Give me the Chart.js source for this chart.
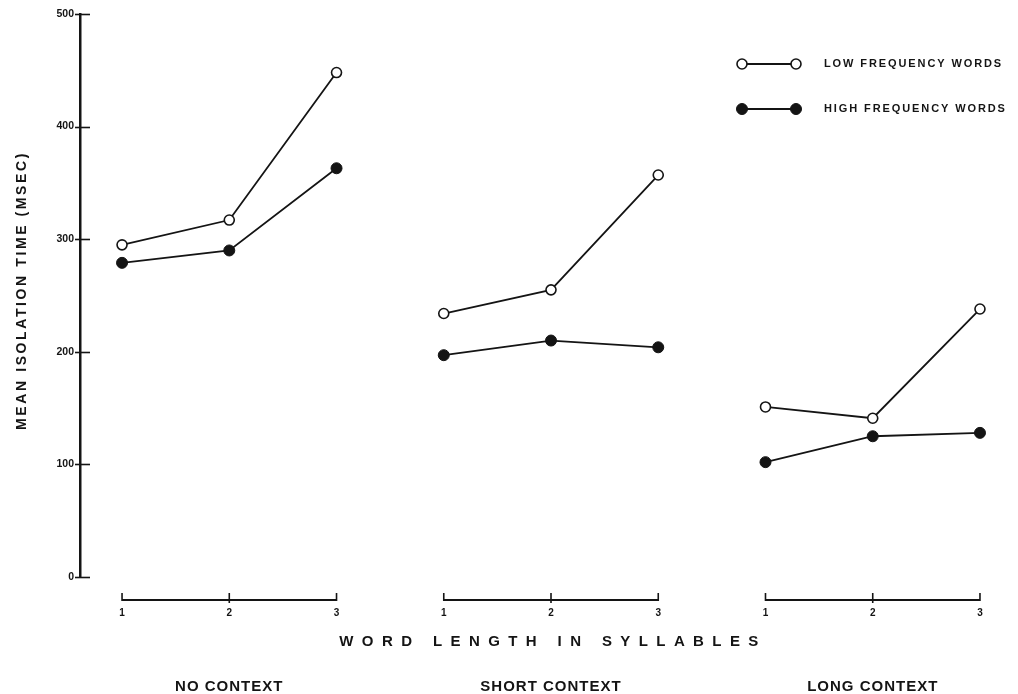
<!DOCTYPE html>
<html>
<head>
<meta charset="utf-8">
<script src="https://cdn.jsdelivr.net/npm/chart.js@4.4.1/dist/chart.umd.min.js"></script>
<style>
  html, body { margin: 0; padding: 0; background: #fff; }
  #wrap { width: 1018px; height: 694px; }
  canvas { display: block; }
</style>
</head>
<body>
<div id="wrap"><canvas id="chart" width="1018" height="694"></canvas></div>
<script>
// Word length (syllables) repeated for each context condition
const syllables = ['1', '2', '3'];
const contexts = ['NO CONTEXT', 'SHORT CONTEXT', 'LONG CONTEXT'];

// Mean isolation time (msec), 3 word lengths x 3 contexts
const lowFrequency  = [295, 317, 448, 234, 255, 357, 151, 141, 238];
const highFrequency = [279, 290, 363, 197, 210, 204, 102, 125, 128];

const yTickValues = [0, 100, 200, 300, 400, 500];
const seriesNames = ['LOW FREQUENCY WORDS', 'HIGH FREQUENCY WORDS'];
const xTitle = 'WORD LENGTH IN SYLLABLES';
const yTitle = 'MEAN ISOLATION TIME (MSEC)';

const INK = '#141414';
const FONT = '"Liberation Sans", Arial, Helvetica, sans-serif';

// Each point sits at its position index; lines break between context groups.
const toPoints = vals => vals.map((v, i) => ({ x: i, y: v }));
const breakBetweenGroups = ctx => (ctx.p0DataIndex % syllables.length === syllables.length - 1 ? 'rgba(0,0,0,0)' : INK);

const datasets = [
  {
    label: seriesNames[0],
    data: toPoints(lowFrequency),
    borderColor: INK,
    borderWidth: 1.8,
    pointRadius: 5,
    pointBackgroundColor: '#fff',
    pointBorderColor: INK,
    pointBorderWidth: 1.6,
    segment: { borderColor: breakBetweenGroups }
  },
  {
    label: seriesNames[1],
    data: toPoints(highFrequency),
    borderColor: INK,
    borderWidth: 1.8,
    pointRadius: 5.5,
    pointBackgroundColor: INK,
    pointBorderColor: INK,
    pointBorderWidth: 1,
    segment: { borderColor: breakBetweenGroups }
  }
];

// Draws the split x axis, y tick marks, axis captions and the key.
const paperAxes = {
  id: 'paperAxes',
  afterDraw(chart) {
    const { ctx, scales: { x, y }, chartArea } = chart;
    ctx.save();
    ctx.strokeStyle = INK;
    ctx.fillStyle = INK;

    // y tick marks crossing the axis
    ctx.lineWidth = 1.6;
    yTickValues.forEach(v => {
      const py = Math.round(y.getPixelForValue(v)) + 0.5;
      ctx.beginPath();
      ctx.moveTo(chartArea.left - 5, py);
      ctx.lineTo(chartArea.left + 10, py);
      ctx.stroke();
    });

    // y axis caption, spaced out and rotated
    ctx.save();
    ctx.translate(22, (chartArea.top + chartArea.bottom) / 2 - 5);
    ctx.rotate(-Math.PI / 2);
    ctx.font = 'bold 14px ' + FONT;
    ctx.letterSpacing = '2.6px';
    ctx.textAlign = 'center';
    ctx.textBaseline = 'middle';
    ctx.fillText(yTitle, 0, 0);
    ctx.restore();

    // one short axis per context group
    const axisY = chartArea.bottom + 23;
    contexts.forEach((name, g) => {
      const x0 = x.getPixelForValue(g * 3);
      const x2 = x.getPixelForValue(g * 3 + 2);
      ctx.lineWidth = 2;
      ctx.beginPath();
      ctx.moveTo(x0, axisY);
      ctx.lineTo(x2, axisY);
      ctx.stroke();
      ctx.lineWidth = 1.6;
      for (let k = 0; k < 3; k++) {
        const px = x.getPixelForValue(g * 3 + k);
        ctx.beginPath();
        ctx.moveTo(px, axisY - 7);
        ctx.lineTo(px, axisY + (k === 1 ? 3 : 1));
        ctx.stroke();
      }
      // group caption
      ctx.font = 'bold 15px ' + FONT;
      ctx.textAlign = 'center';
      ctx.textBaseline = 'middle';
      ctx.letterSpacing = '1px';
      ctx.fillText(name, x.getPixelForValue(g * 3 + 1), chartArea.bottom + 110);
      ctx.letterSpacing = '0px';
    });

    // x axis caption, widely spaced
    ctx.font = 'bold 15px ' + FONT;
    ctx.letterSpacing = '8.4px';
    ctx.textAlign = 'center';
    ctx.textBaseline = 'middle';
    ctx.fillText(xTitle, x.getPixelForValue(4) + 2, chartArea.bottom + 65);
    ctx.letterSpacing = '0px';

    // key
    const keyX0 = chartArea.right - 268;
    const keyX1 = keyX0 + 54;
    const rows = [chartArea.top + 50, chartArea.top + 95];
    chart.data.datasets.forEach((ds, i) => {
      const ky = rows[i];
      ctx.lineWidth = ds.borderWidth;
      ctx.strokeStyle = INK;
      ctx.beginPath();
      ctx.moveTo(keyX0, ky);
      ctx.lineTo(keyX1, ky);
      ctx.stroke();
      [keyX0, keyX1].forEach(kx => {
        ctx.beginPath();
        ctx.arc(kx, ky, ds.pointRadius, 0, Math.PI * 2);
        ctx.fillStyle = ds.pointBackgroundColor;
        ctx.fill();
        ctx.lineWidth = ds.pointBorderWidth;
        ctx.strokeStyle = ds.pointBorderColor;
        ctx.stroke();
      });
      ctx.fillStyle = INK;
      ctx.font = 'bold 11px ' + FONT;
      ctx.letterSpacing = '1.9px';
      ctx.textAlign = 'left';
      ctx.textBaseline = 'middle';
      ctx.fillText(ds.label, keyX1 + 28, ky);
      ctx.letterSpacing = '0px';
    });

    ctx.restore();
  }
};

new Chart(document.getElementById('chart'), {
  type: 'line',
  data: { datasets },
  options: {
    responsive: false,
    animation: false,
    layout: { padding: { top: 14, right: 8, left: 0, bottom: 0 } },
    plugins: { legend: { display: false }, tooltip: { enabled: false } },
    scales: {
      x: {
        type: 'linear',
        min: -0.392,
        max: 8.28,
        afterBuildTicks: s => { s.ticks = lowFrequency.map((_, i) => ({ value: i })); },
        afterFit: s => { s.height = 117; },
        grid: { display: false, drawTicks: false },
        border: { display: false },
        ticks: {
          autoSkip: false,
          maxRotation: 0,
          padding: 30,
          color: INK,
          font: { family: FONT, size: 10, weight: 'bold' },
          callback: v => syllables[v % syllables.length]
        }
      },
      y: {
        min: 0,
        max: 500,
        afterBuildTicks: s => { s.ticks = yTickValues.map(v => ({ value: v })); },
        afterFit: s => { s.width = 80; },
        grid: { display: false, drawTicks: false },
        border: { display: true, color: INK, width: 2.5 },
        ticks: { padding: 6, color: INK, font: { family: FONT, size: 10.5, weight: 'bold' } },
        title: { display: false }
      }
    }
  },
  plugins: [paperAxes]
});
</script>
</body>
</html>
